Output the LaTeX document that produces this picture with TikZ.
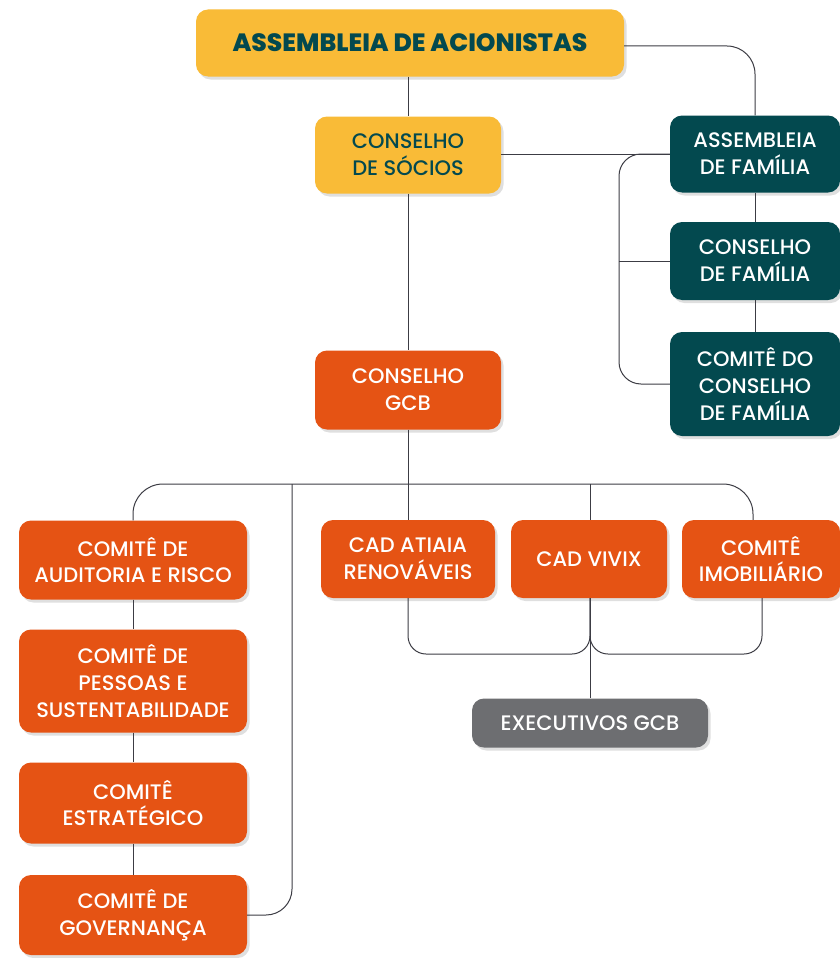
\documentclass[tikz,border=0pt]{standalone}
\usepackage{fontspec}
\setmainfont{Poppins}[UprightFont=* Medium, BoldFont=* ExtraBold]
\usetikzlibrary{shadows}
\definecolor{yel}{HTML}{F9BB37}
\definecolor{dteal}{HTML}{03494F}
\definecolor{org}{HTML}{E55314}
\definecolor{gry}{HTML}{6D6E71}
\definecolor{ln}{HTML}{3C3C44}
\tikzset{
  box/.style={rectangle, rounded corners=12pt, align=center, inner sep=0pt,
    font=\fontsize{21}{26.8}\selectfont,
    drop shadow={opacity=0.25, shadow xshift=2.5pt, shadow yshift=-3pt}},
  yelbox/.style={box, fill=yel, text=dteal},
  tealbox/.style={box, fill=dteal, text=white},
  orgbox/.style={box, fill=org, text=white},
  grybox/.style={box, fill=gry, text=white},
  conn/.style={draw=ln, line width=1pt}
}
\begin{document}
\begin{tikzpicture}[x=1pt,y=-1pt]
\useasboundingbox[fill=white] (0,0) rectangle (839,958);
% top
\node[yelbox, minimum width=428pt, minimum height=67pt, font=\fontsize{25}{28}\selectfont\bfseries] (aa) at (410,43) {ASSEMBLEIA DE ACIONISTAS};
\node[yelbox, minimum width=186pt, minimum height=77pt] (cs) at (408,155) {CONSELHO\\DE SÓCIOS};
\node[orgbox, minimum width=186pt, minimum height=79pt] (gcb) at (408,390) {CONSELHO\\GCB};
% family
\node[tealbox, minimum width=170pt, minimum height=77pt] (af) at (755,154) {ASSEMBLEIA\\DE FAMÍLIA};
\node[tealbox, minimum width=170pt, minimum height=78pt] (cf) at (755,261) {CONSELHO\\DE FAMÍLIA};
\node[tealbox, minimum width=170pt, minimum height=104pt] (ccf) at (755,384) {COMITÊ DO\\CONSELHO\\DE FAMÍLIA};
% committees left
\node[orgbox, minimum width=228pt, minimum height=79pt] (car) at (133,560) {COMITÊ DE\\AUDITORIA E RISCO};
\node[orgbox, minimum width=228pt, minimum height=103pt] (cps) at (133,681) {COMITÊ DE\\PESSOAS E\\SUSTENTABILIDADE};
\node[orgbox, minimum width=228pt, minimum height=81pt] (ces) at (133,803) {COMITÊ\\ESTRATÉGICO};
\node[orgbox, minimum width=228pt, minimum height=80pt] (cgov) at (133,915) {COMITÊ DE\\GOVERNANÇA};
% middle row
\node[orgbox, minimum width=174pt, minimum height=78pt] (cad) at (408,559) {CAD ATIAIA\\RENOVÁVEIS};
\node[orgbox, minimum width=156pt, minimum height=78pt] (viv) at (589,559) {CAD VIVIX};
\node[orgbox, minimum width=158pt, minimum height=78pt] (imo) at (761,559) {COMITÊ\\IMOBILIÁRIO};
\node[grybox, minimum width=236pt, minimum height=49pt] (exe) at (590,723) {EXECUTIVOS GCB};
% coordinates
\coordinate (jn) at (408,484);
\coordinate (j2) at (292,484);
\coordinate (brk) at (619,261);
\coordinate (imoin) at ([xshift=-8pt]imo.north);
\coordinate (imoout) at ([xshift=1pt]imo.south);
\coordinate (mrg) at (590,654);
% connectors
\draw[conn] (aa.south -| cs.north) -- (cs.north);
\draw[conn] (cs.south) -- (gcb.north);
\draw[conn] (gcb.south) -- (jn);
\draw[conn] (jn) -- (cad.north);
\draw[conn, rounded corners=28pt] ([yshift=-3pt]aa.east) -| (af.north);
\draw[conn] (cs.east |- af.west) -- (af.west);
\draw[conn, rounded corners=22pt] (af.west) -| (brk) |- (ccf.west);
\draw[conn] (brk) -- (cf.west);
\draw[conn] (af.south) -- (cf.north);
\draw[conn] (cf.south) -- (ccf.north);
\draw[conn, rounded corners=30pt] (jn) -| (car.north);
\draw[conn, rounded corners=30pt] (jn) -| (imoin);
\draw[conn] (jn -| mrg) -- (mrg |- viv.north);
\draw[conn, rounded corners=26pt] (j2) |- (cgov.east);
\draw[conn] (car.south) -- (cps.north);
\draw[conn] (cps.south) -- (ces.north);
\draw[conn] (ces.south) -- (cgov.north);
\draw[conn, rounded corners=18pt] (cad.south) |- (mrg) -- (mrg |- viv.south);
\draw[conn, rounded corners=18pt] (imoout) |- (mrg) -- (mrg |- viv.south);
\draw[conn] (mrg |- viv.south) -- (exe.north);
\end{tikzpicture}
\end{document}
